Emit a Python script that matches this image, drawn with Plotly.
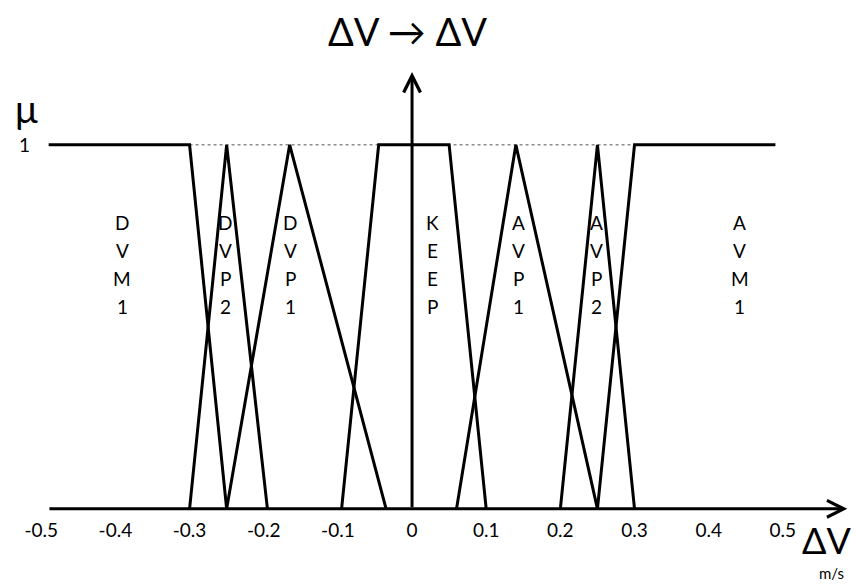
import plotly.graph_objects as go

# Membership functions of the speed-difference controller (ΔV in m/s, μ in [0, 1])
dvm1_x = [-0.49, -0.30, -0.25]
dvm1_mu = [1, 1, 0]
dvp2_x = [-0.30, -0.25, -0.195]
dvp2_mu = [0, 1, 0]
dvp1_x = [-0.25, -0.165, -0.035]
dvp1_mu = [0, 1, 0]
keep_x = [-0.095, -0.045, 0.05, 0.10]
keep_mu = [0, 1, 1, 0]
avp1_x = [0.06, 0.14, 0.25]
avp1_mu = [0, 1, 0]
avp2_x = [0.20, 0.25, 0.30]
avp2_mu = [0, 1, 0]
avm1_x = [0.25, 0.30, 0.49]
avm1_mu = [0, 1, 1]

# Thin reference line at μ = 1
ref_x = [-0.30, 0.30]
ref_mu = [1, 1]

# Fuzzy set names and where they are written
set_names = ["DVM1", "DVP2", "DVP1", "KEEP", "AVP1", "AVP2", "AVM1"]
name_x = [-0.391, -0.252, -0.164, 0.027, 0.143, 0.249, 0.442]

# Axis ticks
tick_vals = [-0.5, -0.4, -0.3, -0.2, -0.1, 0, 0.1, 0.2, 0.3, 0.4, 0.5]
tick_text = ["-0.5", "-0.4", "-0.3", "-0.2", "-0.1", "0", "0.1", "0.2", "0.3", "0.4", "0.5"]

FONT = "Lato, 'Open Sans', sans-serif"
LINE = dict(color="black", width=3)

fig = go.Figure()

fig.add_trace(go.Scatter(x=ref_x, y=ref_mu, mode="lines",
                         line=dict(color="#555555", width=1, dash="dot"),
                         hoverinfo="skip"))

for xs, ys in [(dvm1_x, dvm1_mu), (dvp2_x, dvp2_mu), (dvp1_x, dvp1_mu),
               (keep_x, keep_mu), (avp1_x, avp1_mu), (avp2_x, avp2_mu),
               (avm1_x, avm1_mu)]:
    fig.add_trace(go.Scatter(x=xs, y=ys, mode="lines", line=LINE,
                             hoverinfo="skip"))

annotations = []

# Axes drawn as arrows: horizontal ΔV axis and vertical μ axis
arrow_style = dict(xref="x", yref="y", axref="x", ayref="y", text="", showarrow=True,
                   arrowhead=5, arrowwidth=3, arrowsize=1.1, arrowcolor="black",
                   standoff=0)
annotations.append(dict(x=0.587, y=0, ax=-0.491, ay=0, **arrow_style))
annotations.append(dict(x=0.0, y=1.2, ax=0.0, ay=0, **arrow_style))


def label(x, y, text, size, ref="x", pad=1):
    yref = "y" if ref == "x" else "paper"
    return dict(x=x, y=y, xref=ref, yref=yref, text=text, showarrow=False,
                xanchor="center", yanchor="middle", borderpad=pad,
                font=dict(family=FONT, size=size, color="black"))


# Vertical set names, one character per row
row_top = 0.786
row_step = 0.077
for name, nx in zip(set_names, name_x):
    for i, ch in enumerate(name):
        annotations.append(label(nx, row_top - i * row_step, ch, 19))

annotations += [
    label(-0.006, 1.313, "ΔV → ΔV", 38),
    label(-0.5205, 1.10, "μ", 38),
    label(-0.522, 1.0, "1", 19),
    label(0.9642, -0.0247, "ΔV", 36, ref="paper", pad=0),
    label(0.969, -0.0873, "m/s", 15, ref="paper", pad=0),
]

fig.update_layout(
    width=858, height=587, autosize=False,
    margin=dict(l=19, r=1, t=0, b=60),
    paper_bgcolor="white", plot_bgcolor="white",
    showlegend=False,
    annotations=annotations,
    xaxis=dict(range=[-0.53, 0.60], showgrid=False, zeroline=False, showline=False,
               tickvals=tick_vals, ticktext=tick_text, ticks="outside", ticklen=4,
               tickcolor="rgba(0,0,0,0)", anchor="free", position=0.05 / 1.448,
               tickfont=dict(family=FONT, size=19, color="black")),
    yaxis=dict(range=[-0.05, 1.398], visible=False),
)

fig.write_html("out.html")
